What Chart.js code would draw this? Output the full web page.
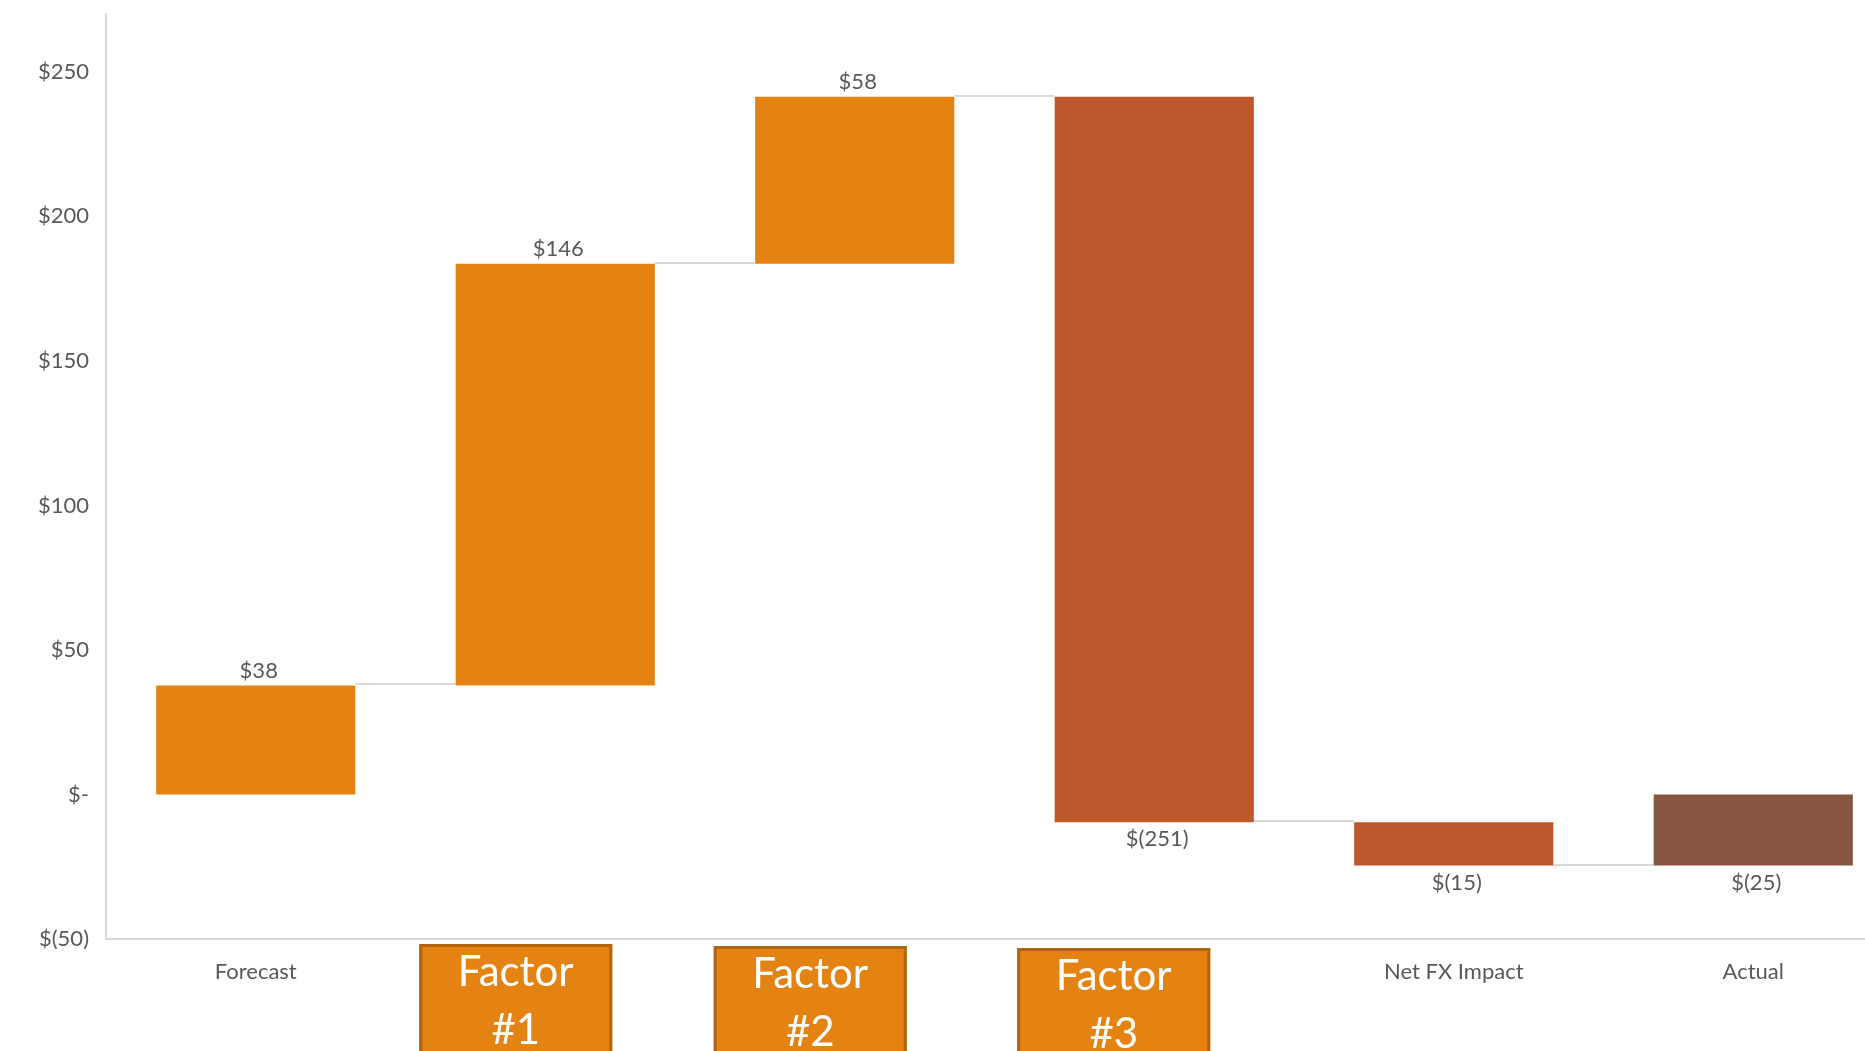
<!DOCTYPE html>
<html>
<head>
<meta charset="utf-8">
<title>Forecast to Actual Bridge</title>
<script src="https://cdn.jsdelivr.net/npm/chart.js@4.4.1/dist/chart.umd.min.js"></script>
<style>
  html, body { margin: 0; padding: 0; background: #ffffff; overflow: hidden; }
  #wrap { width: 1905px; height: 1051px; }
</style>
</head>
<body>
<div id="wrap"><canvas id="bridge" width="1905" height="1051"></canvas></div>
<script>
// Bridge steps and their changes
const categories = ['Forecast', 'Factor #1', 'Factor #2', 'Factor #3', 'Net FX Impact', 'Actual'];
const changes = [37.7, 145.9, 57.8, -251.0, -15.0];   // Forecast start + step changes
const totalIndex = 5;                                   // Actual is the running total
const yTickValues = [-50, 0, 50, 100, 150, 200, 250];
const boxedCategories = [1, 2, 3];                      // steps shown as callout boxes

// Colors (Retrospect palette)
const ORANGE = '#E48312';
const RUST = '#BD582C';
const BROWN = '#865640';
const TEXT = '#595959';
const LINE = '#D9D9D9';
const FONT = 'Lato, "Open Sans", sans-serif';
const SMALL = 22;

// Floating bar ranges from the running total
const ranges = [];
const levels = [];
let running = 0;
changes.forEach(function (c) {
  ranges.push([running, running + c]);
  running += c;
  levels.push(running);
});
ranges.push([0, running]);
levels.push(running);
const labelValues = changes.concat([running]);
const barColors = labelValues.map(function (v, i) {
  if (i === totalIndex) return BROWN;
  return v >= 0 ? ORANGE : RUST;
});

function money(v) {
  const r = Math.round(Math.abs(v));
  if (r === 0) return '$-';
  return v < 0 ? '$(' + r + ')' : '$' + r;
}

// Thin connectors between consecutive bars
const connectors = {
  id: 'connectors',
  beforeDatasetsDraw(chart) {
    const meta = chart.getDatasetMeta(0);
    const y = chart.scales.y;
    const ctx = chart.ctx;
    ctx.save();
    ctx.strokeStyle = LINE;
    ctx.lineWidth = 2;
    for (let i = 0; i < meta.data.length - 1; i++) {
      const a = meta.data[i], b = meta.data[i + 1];
      const py = Math.round(y.getPixelForValue(levels[i])) - 1;
      ctx.beginPath();
      ctx.moveTo(a.x + a.width / 2, py);
      ctx.lineTo(b.x - b.width / 2, py);
      ctx.stroke();
    }
    ctx.restore();
  }
};

// Value labels above rising bars and below falling ones
const valueLabels = {
  id: 'valueLabels',
  afterDatasetsDraw(chart) {
    const meta = chart.getDatasetMeta(0);
    const y = chart.scales.y;
    const ctx = chart.ctx;
    ctx.save();
    ctx.fillStyle = TEXT;
    ctx.font = SMALL + 'px ' + FONT;
    ctx.textAlign = 'center';
    ctx.textBaseline = 'middle';
    meta.data.forEach(function (bar, i) {
      const v = labelValues[i];
      const r = ranges[i];
      let py;
      if (v >= 0) {
        py = y.getPixelForValue(Math.max(r[0], r[1])) - 15;
      } else {
        py = y.getPixelForValue(Math.min(r[0], r[1])) + 17;
      }
      ctx.fillText(money(v), bar.x + 3, py);
    });
    ctx.restore();
  }
};

// Callout boxes over the factor categories
const factorBoxes = {
  id: 'factorBoxes',
  afterDraw(chart) {
    const x = chart.scales.x;
    const ctx = chart.ctx;
    const shifts = [-136, -141, -137];
    const tops = [944, 946, 948];
    boxedCategories.forEach(function (idx, k) {
      const left = x.getPixelForValue(idx) + shifts[k];
      const w = 193, h = 140, top = tops[k];
      ctx.save();
      ctx.fillStyle = ORANGE;
      ctx.fillRect(left, top, w, h);
      ctx.strokeStyle = '#B1640F';
      ctx.lineWidth = 3;
      ctx.strokeRect(left + 1.5, top + 1.5, w - 3, h - 3);
      ctx.fillStyle = '#FFFFFF';
      ctx.font = '42px ' + FONT;
      ctx.textAlign = 'center';
      ctx.textBaseline = 'middle';
      const parts = categories[idx].split(' ');
      ctx.fillText(parts[0], left + w / 2, top + 28);
      ctx.fillText(parts[1], left + w / 2, top + 86);
      ctx.restore();
    });
  }
};

new Chart(document.getElementById('bridge'), {
  type: 'bar',
  data: {
    labels: categories,
    datasets: [{
      data: ranges,
      backgroundColor: barColors,
      borderWidth: 0,
      borderSkipped: false,
      categoryPercentage: 1,
      barPercentage: 0.665
    }]
  },
  options: {
    responsive: false,
    devicePixelRatio: 1,
    animation: false,
    layout: { padding: { top: 14, right: 2, bottom: 0, left: 0 } },
    plugins: {
      legend: { display: false },
      tooltip: { enabled: false }
    },
    scales: {
      x: {
        grid: { display: false, drawTicks: false },
        border: { display: true, color: LINE, width: 2 },
        ticks: {
          color: TEXT,
          font: { family: FONT, size: SMALL },
          padding: 20,
          maxRotation: 0,
          autoSkip: false,
          callback: function (value, index) {
            return boxedCategories.indexOf(index) >= 0 ? '' : categories[index];
          }
        },
        afterFit: function (scale) {
          scale.height = 112;
          scale.paddingLeft = 0;
          scale.paddingRight = 0;
        }
      },
      y: {
        min: -50,
        max: 270,
        grid: { display: false, drawTicks: false },
        border: { display: true, color: LINE, width: 2 },
        afterBuildTicks: function (scale) {
          scale.ticks = yTickValues.map(function (v) { return { value: v }; });
        },
        ticks: {
          color: TEXT,
          font: { family: FONT, size: SMALL },
          padding: 17,
          callback: function (v) { return money(v); }
        },
        afterFit: function (scale) {
          scale.width = 106;
          scale.paddingTop = 0;
          scale.paddingBottom = 0;
        }
      }
    }
  },
  plugins: [connectors, valueLabels, factorBoxes]
});
</script>
</body>
</html>
